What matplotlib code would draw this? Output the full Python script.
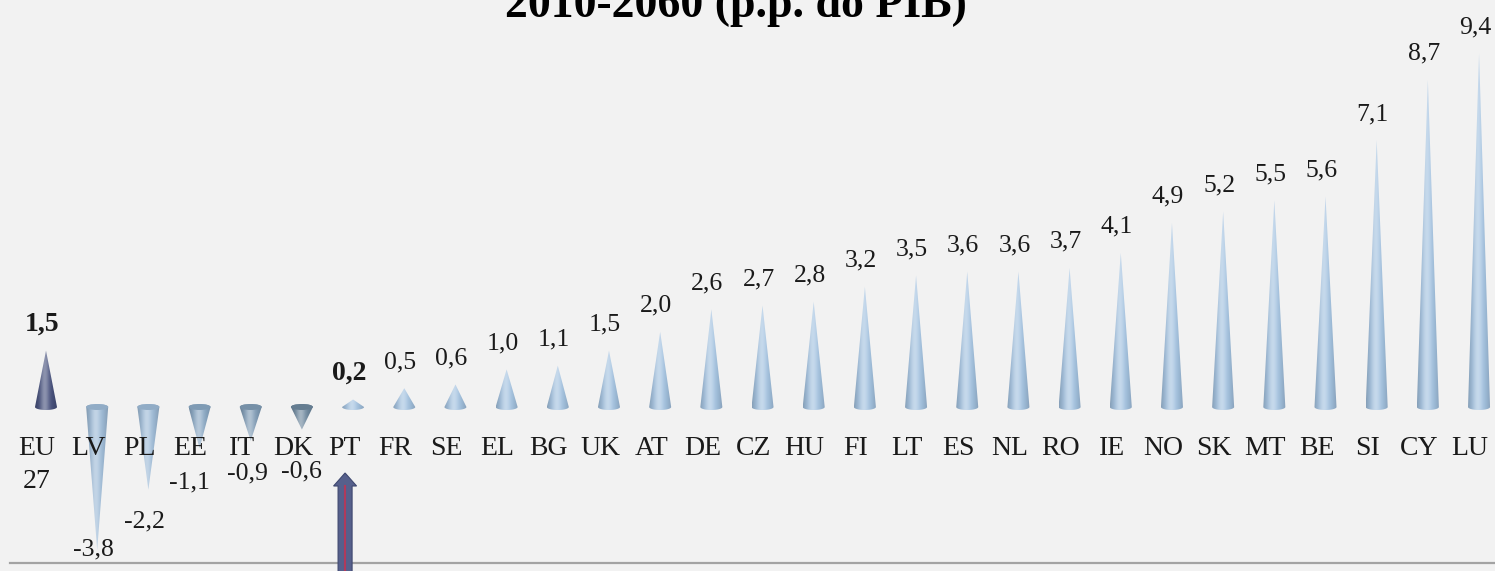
import matplotlib.pyplot as plt
import numpy as np
from matplotlib.patches import Polygon, Ellipse
import matplotlib.colors as mcolors

# dados
paises = ['EU\n27', 'LV', 'PL', 'EE', 'IT', 'DK', 'PT', 'FR', 'SE', 'EL', 'BG', 'UK',
          'AT', 'DE', 'CZ', 'HU', 'FI', 'LT', 'ES', 'NL', 'RO', 'IE', 'NO', 'SK',
          'MT', 'BE', 'SI', 'CY', 'LU']
valores = [1.5, -3.8, -2.2, -1.1, -0.9, -0.6, 0.2, 0.5, 0.6, 1.0, 1.1, 1.5,
           2.0, 2.6, 2.7, 2.8, 3.2, 3.5, 3.6, 3.6, 3.7, 4.1, 4.9, 5.2,
           5.5, 5.6, 7.1, 8.7, 9.4]
destaque = ['EU\n27', 'PT']
titulo = '2010-2060 (p.p. do PIB)'

# estilo
cor_base = '#a3c2e0'
cores_esp = {'EU\n27': '#46507c', 'LV': '#9ebbd7', 'PL': '#9ebbd7',
             'EE': '#8aa8c4', 'IT': '#809cb6', 'DK': '#6e889e'}
# deslocamento (px) dos rotulos negativos em relacao ao vertice
desl_neg = {'LV': (-4, -6), 'PL': (-4, -38), 'EE': (-10, -40), 'IT': (-3, -39), 'DK': (0, -48)}

PX_X = 51.18   # px por categoria
PX_Y = 37.6    # px por unidade
W, H = 1495, 571
X0, Y0 = 46, 407  # posicao em px do primeiro cone e do zero

plt.rcParams['font.family'] = ['Liberation Serif', 'DejaVu Serif']

fig = plt.figure(figsize=(W / 100, H / 100), dpi=100, facecolor='#f2f2f2')
ax = fig.add_axes([0, 0, 1, 1])
ax.set_facecolor('#f2f2f2')


def gradiente(cor, n=64):
    base = np.array(mcolors.to_rgb(cor))
    u = np.linspace(-1, 1, n)
    luz = 0.38 * np.exp(-((u + 0.15) / 0.4) ** 2)
    sombra = 0.18 * u ** 2
    rgb = base[None, :] * (1 - sombra[:, None])
    rgb = rgb + (1 - rgb) * luz[:, None]
    return np.clip(rgb[None, :, :], 0, 1)


def cone(x, v, cor, w=0.43, eh=0.08):
    hw = w / 2
    t = np.linspace(0, np.pi, 40)
    ax_ = x - hw * np.cos(t)
    if v >= 0:
        ay = -eh * np.sin(t)
        y0, y1 = -eh, v
    else:
        ay = eh * np.sin(t)
        y0, y1 = v, eh
    pts = [(x, v)] + list(zip(ax_, ay))
    poly = Polygon(pts, closed=True, facecolor='none', edgecolor='none')
    ax.add_patch(poly)
    im = ax.imshow(gradiente(cor), extent=[x - hw, x + hw, y0, y1], aspect='auto',
                   interpolation='bilinear', zorder=2)
    im.set_clip_path(poly)
    if v < 0:
        tampa = np.array(mcolors.to_rgb(cor)) * 0.92
        ax.add_patch(Ellipse((x, 0), w, 2 * eh, facecolor=tampa, edgecolor='none', zorder=3))


for i, (p, v) in enumerate(zip(paises, valores)):
    cone(i, v, cores_esp.get(p, cor_base))

    # rotulo do pais
    for k, linha in enumerate(p.split('\n')):
        ax.text(i - 9 / PX_X, (Y0 - 455 - 33 * k) / PX_Y, linha, ha='center', va='baseline',
                fontsize=20, color='#1a1a1a', zorder=5)

    # rotulo do valor
    txt = ('%.1f' % v).replace('.', ',')
    negrito = p in destaque
    if v >= 0:
        dx, dy = -4, 20
    else:
        dx, dy = desl_neg.get(p, (0, -30))
    ax.annotate(txt, (i, v), xytext=(dx * 0.72, dy * 0.72), textcoords='offset points',
                ha='center', va='baseline',
                fontsize=20 if negrito else 18.5, fontweight='bold' if negrito else 'normal',
                color='#1a1a1a', zorder=5)

# linha inferior
ax.plot([(10 - X0) / PX_X, (W - X0) / PX_X], [(Y0 - 563) / PX_Y] * 2,
        color='#a3a3a3', lw=1.6, zorder=1)

# seta apontando para PT
xs = paises.index('PT') - 8 / PX_X
hs, hc = 7 / PX_X, 11.5 / PX_X
y_tip, y_cab, y_fim = (Y0 - 473) / PX_Y, (Y0 - 486) / PX_Y, (Y0 - 600) / PX_Y
seta = Polygon([(xs, y_tip), (xs + hc, y_cab), (xs + hs, y_cab), (xs + hs, y_fim),
                (xs - hs, y_fim), (xs - hs, y_cab), (xs - hc, y_cab)], closed=True,
               facecolor='#56608c', edgecolor='#3f4870', lw=0.8, zorder=6)
ax.add_patch(seta)
ax.plot([xs, xs], [y_cab, y_fim], color='#b03a5c', lw=1.5, zorder=7)

fig.text((507 + 965) / 2 / W, 1 - 17 / H, titulo, ha='center', va='baseline',
         fontsize=33, fontweight='bold', color='black')

ax.set_xlim(-X0 / PX_X, (W - X0) / PX_X)
ax.set_ylim(-(H - Y0) / PX_Y, Y0 / PX_Y)
ax.axis('off')

fig.savefig('out.png', dpi=100, facecolor=fig.get_facecolor())
